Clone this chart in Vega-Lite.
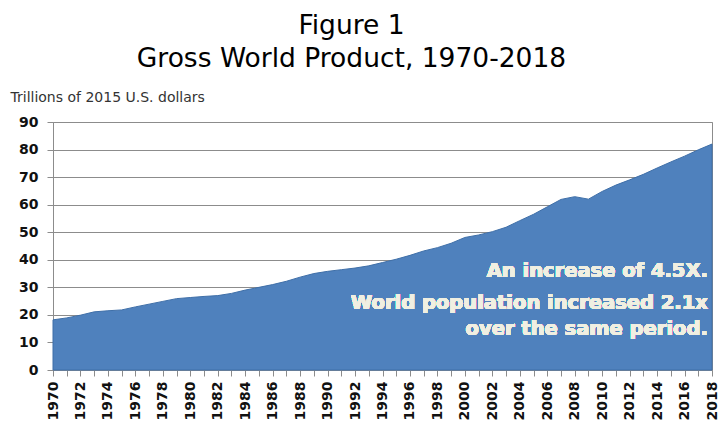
{
  "$schema": "https://vega.github.io/schema/vega-lite/v6.json",
  "width": 659,
  "height": 248,
  "autosize": "none",
  "padding": {"left": 53, "top": 122, "right": 7, "bottom": 57},
  "background": "white",
  "title": {
    "text": ["Figure 1", "Gross World Product, 1970-2018"],
    "font": "DejaVu Sans",
    "fontSize": 26.5,
    "fontWeight": "normal",
    "color": "#000000",
    "lineHeight": 33,
    "anchor": "middle",
    "dx": -31,
    "offset": 18
  },
  "config": {"view": {"stroke": "#8c8c8c", "strokeWidth": 1}},
  "data": {
    "values": [
      {"year": 1970, "gwp": 18.2}, {"year": 1971, "gwp": 18.9}, {"year": 1972, "gwp": 19.9},
      {"year": 1973, "gwp": 21.1}, {"year": 1974, "gwp": 21.5}, {"year": 1975, "gwp": 21.8},
      {"year": 1976, "gwp": 22.9}, {"year": 1977, "gwp": 23.9}, {"year": 1978, "gwp": 24.9},
      {"year": 1979, "gwp": 25.9}, {"year": 1980, "gwp": 26.3}, {"year": 1981, "gwp": 26.7},
      {"year": 1982, "gwp": 27.0}, {"year": 1983, "gwp": 27.8}, {"year": 1984, "gwp": 29.0},
      {"year": 1985, "gwp": 30.0}, {"year": 1986, "gwp": 31.0}, {"year": 1987, "gwp": 32.2},
      {"year": 1988, "gwp": 33.7}, {"year": 1989, "gwp": 35.0}, {"year": 1990, "gwp": 35.8},
      {"year": 1991, "gwp": 36.4}, {"year": 1992, "gwp": 37.0}, {"year": 1993, "gwp": 37.8},
      {"year": 1994, "gwp": 39.0}, {"year": 1995, "gwp": 40.2}, {"year": 1996, "gwp": 41.6},
      {"year": 1997, "gwp": 43.2}, {"year": 1998, "gwp": 44.4}, {"year": 1999, "gwp": 46.0},
      {"year": 2000, "gwp": 48.1}, {"year": 2001, "gwp": 49.0}, {"year": 2002, "gwp": 50.2},
      {"year": 2003, "gwp": 51.8}, {"year": 2004, "gwp": 54.2}, {"year": 2005, "gwp": 56.5},
      {"year": 2006, "gwp": 59.2}, {"year": 2007, "gwp": 61.9}, {"year": 2008, "gwp": 62.9},
      {"year": 2009, "gwp": 62.0}, {"year": 2010, "gwp": 64.8}, {"year": 2011, "gwp": 67.1},
      {"year": 2012, "gwp": 69.0}, {"year": 2013, "gwp": 71.0}, {"year": 2014, "gwp": 73.3},
      {"year": 2015, "gwp": 75.5}, {"year": 2016, "gwp": 77.6}, {"year": 2017, "gwp": 79.9},
      {"year": 2018, "gwp": 82.0}
    ]
  },
  "layer": [
    {
      "mark": {"type": "area", "color": "#4F81BD", "stroke": "#3f6fa8", "strokeWidth": 1, "interpolate": "linear"},
      "encoding": {
        "x": {
          "field": "year", "type": "quantitative",
          "scale": {"domain": [1970, 2018], "nice": false, "zero": false},
          "axis": {
            "title": null,
            "values": [1970,1971,1972,1973,1974,1975,1976,1977,1978,1979,1980,1981,1982,1983,1984,1985,1986,1987,1988,1989,1990,1991,1992,1993,1994,1995,1996,1997,1998,1999,2000,2001,2002,2003,2004,2005,2006,2007,2008,2009,2010,2011,2012,2013,2014,2015,2016,2017,2018],
            "labelExpr": "datum.value % 2 == 0 ? datum.label : ''",
            "format": "d",
            "labelAngle": 270,
            "labelAlign": "right",
            "labelBaseline": "middle",
            "labelOverlap": false,
            "labelFlush": false,
            "labelFont": "DejaVu Sans",
            "labelFontWeight": "bold",
            "labelFontSize": 14,
            "labelColor": "#111111",
            "labelPadding": 5,
            "tickSize": 6,
            "tickColor": "#8c8c8c",
            "domainColor": "#8c8c8c",
            "grid": false
          }
        },
        "y": {
          "field": "gwp", "type": "quantitative",
          "scale": {"domain": [0, 90], "nice": false},
          "axis": {
            "title": "Trillions of 2015 U.S. dollars",
            "titleAngle": 0,
            "titleAlign": "left",
            "titleBaseline": "middle",
            "titleX": -43,
            "titleY": -25,
            "titleFont": "DejaVu Sans",
            "titleFontSize": 14,
            "titleFontWeight": "normal",
            "titleColor": "#333333",
            "values": [0,10,20,30,40,50,60,70,80,90],
            "labelOverlap": false,
            "labelFont": "DejaVu Sans",
            "labelFontWeight": "bold",
            "labelFontSize": 14,
            "labelColor": "#111111",
            "labelPadding": 9,
            "tickSize": 6,
            "tickColor": "#8c8c8c",
            "domainColor": "#8c8c8c",
            "grid": true,
            "gridColor": "#8c8c8c",
            "gridWidth": 1
          }
        }
      }
    },
    {
      "mark": {"type": "text", "align": "right", "baseline": "middle", "font": "DejaVu Sans", "fontWeight": "bold", "fontSize": 19.5, "color": "#F0EFE2"},
      "encoding": {
        "x": {"datum": 2017.7, "type": "quantitative",
          "axis": {
            "title": null,
            "values": [1970,1971,1972,1973,1974,1975,1976,1977,1978,1979,1980,1981,1982,1983,1984,1985,1986,1987,1988,1989,1990,1991,1992,1993,1994,1995,1996,1997,1998,1999,2000,2001,2002,2003,2004,2005,2006,2007,2008,2009,2010,2011,2012,2013,2014,2015,2016,2017,2018],
            "labelExpr": "datum.value % 2 == 0 ? datum.label : ''",
            "format": "d",
            "labelAngle": 270,
            "labelAlign": "right",
            "labelBaseline": "middle",
            "labelOverlap": false,
            "labelFlush": false,
            "labelFont": "DejaVu Sans",
            "labelFontWeight": "bold",
            "labelFontSize": 14,
            "labelColor": "#111111",
            "labelPadding": 5,
            "tickSize": 6,
            "tickColor": "#8c8c8c",
            "domainColor": "#8c8c8c",
            "grid": false
          }},
        "y": {"datum": 36.0, "type": "quantitative",
          "axis": {
            "title": "Trillions of 2015 U.S. dollars",
            "titleAngle": 0,
            "titleAlign": "left",
            "titleBaseline": "middle",
            "titleX": -43,
            "titleY": -25,
            "titleFont": "DejaVu Sans",
            "titleFontSize": 14,
            "titleFontWeight": "normal",
            "titleColor": "#333333",
            "values": [0,10,20,30,40,50,60,70,80,90],
            "labelOverlap": false,
            "labelFont": "DejaVu Sans",
            "labelFontWeight": "bold",
            "labelFontSize": 14,
            "labelColor": "#111111",
            "labelPadding": 9,
            "tickSize": 6,
            "tickColor": "#8c8c8c",
            "domainColor": "#8c8c8c",
            "grid": true,
            "gridColor": "#8c8c8c",
            "gridWidth": 1
          }},
        "text": {"value": "An increase of 4.5X."}
      }
    },
    {
      "mark": {"type": "text", "align": "right", "baseline": "middle", "font": "DejaVu Sans", "fontWeight": "bold", "fontSize": 19.5, "lineHeight": 26, "color": "#F0EFE2"},
      "encoding": {
        "x": {"datum": 2017.7, "type": "quantitative",
          "axis": {
            "title": null,
            "values": [1970,1971,1972,1973,1974,1975,1976,1977,1978,1979,1980,1981,1982,1983,1984,1985,1986,1987,1988,1989,1990,1991,1992,1993,1994,1995,1996,1997,1998,1999,2000,2001,2002,2003,2004,2005,2006,2007,2008,2009,2010,2011,2012,2013,2014,2015,2016,2017,2018],
            "labelExpr": "datum.value % 2 == 0 ? datum.label : ''",
            "format": "d",
            "labelAngle": 270,
            "labelAlign": "right",
            "labelBaseline": "middle",
            "labelOverlap": false,
            "labelFlush": false,
            "labelFont": "DejaVu Sans",
            "labelFontWeight": "bold",
            "labelFontSize": 14,
            "labelColor": "#111111",
            "labelPadding": 5,
            "tickSize": 6,
            "tickColor": "#8c8c8c",
            "domainColor": "#8c8c8c",
            "grid": false
          }},
        "y": {"datum": 24.2, "type": "quantitative",
          "axis": {
            "title": "Trillions of 2015 U.S. dollars",
            "titleAngle": 0,
            "titleAlign": "left",
            "titleBaseline": "middle",
            "titleX": -43,
            "titleY": -25,
            "titleFont": "DejaVu Sans",
            "titleFontSize": 14,
            "titleFontWeight": "normal",
            "titleColor": "#333333",
            "values": [0,10,20,30,40,50,60,70,80,90],
            "labelOverlap": false,
            "labelFont": "DejaVu Sans",
            "labelFontWeight": "bold",
            "labelFontSize": 14,
            "labelColor": "#111111",
            "labelPadding": 9,
            "tickSize": 6,
            "tickColor": "#8c8c8c",
            "domainColor": "#8c8c8c",
            "grid": true,
            "gridColor": "#8c8c8c",
            "gridWidth": 1
          }},
        "text": {"value": ["World population increased 2.1x", "over the same period."]}
      }
    }
  ]
}
